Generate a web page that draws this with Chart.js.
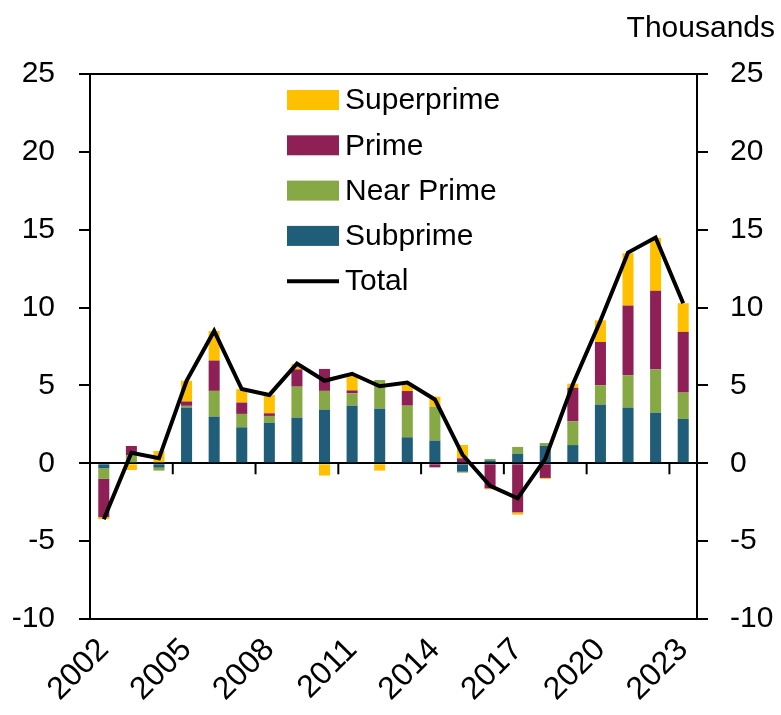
<!DOCTYPE html>
<html>
<head>
<meta charset="utf-8">
<script src="https://cdn.jsdelivr.net/npm/chart.js@4.4.1/dist/chart.umd.min.js"></script>
<style>
  body { margin: 0; background: #fff; }
  #wrap { width: 781px; height: 715px; }
</style>
</head>
<body>
<div id="wrap"><canvas id="chart" width="781" height="715"></canvas></div>
<script>
// data (thousands)
const years = ['2002','2003','2004','2005','2006','2007','2008','2009','2010','2011','2012',
               '2013','2014','2015','2016','2017','2018','2019','2020','2021','2022','2023'];
const subprime   = [-0.32, 0, -0.28, 3.58, 3.0, 2.31, 2.61, 2.93, 3.45, 3.7, 3.51, 1.67, 1.46, -0.54, 0.19, 0.62, 1.13, 1.17, 3.77, 3.58, 3.25, 2.85];
const nearPrime  = [-0.68, 0.53, -0.19, 0.11, 1.65, 0.86, 0.43, 1.99, 1.2, 0.79, 1.84, 2.03, 2.18, -0.06, 0.09, 0.43, 0.17, 1.52, 1.24, 2.08, 2.78, 1.69];
const prime      = [-2.46, 0.58, 0, 0.28, 1.95, 0.73, 0.17, 1.11, 1.41, 0.19, 0, 0.94, -0.26, 0.32, -1.61, -3.15, -0.94, 2.16, 2.78, 4.47, 5.05, 3.9];
const superprime = [-0.13, -0.43, 0.79, 1.33, 1.9, 0.86, 1.18, 0.34, -0.79, 0.94, -0.47, 0.49, 0.64, 0.86, -0.06, -0.15, -0.06, 0.26, 1.39, 3.36, 3.4, 1.84];
const total      = [-3.6, 0.68, 0.32, 5.3, 8.5, 4.77, 4.39, 6.4, 5.3, 5.75, 4.95, 5.18, 4.1, 0.55, -1.45, -2.25, 0.28, 5.08, 9.15, 13.53, 14.5, 10.28];
const labelEvery = 3;

const FONT = '"Liberation Sans", Arial, sans-serif';
Chart.defaults.font.family = FONT;
Chart.defaults.color = '#000';

// frame, zero-line ticks, "Thousands", legend
const extras = {
  id: 'extras',
  afterDatasetsDraw(chart) {
    const ctx = chart.ctx, a = chart.chartArea;
    const x = chart.scales.x, y = chart.scales.y;
    ctx.save();
    ctx.strokeStyle = '#000';
    ctx.lineWidth = 2;
    ctx.beginPath();
    ctx.moveTo(a.left, a.top); ctx.lineTo(a.right, a.top);
    ctx.stroke();

    // small ticks hanging off the zero line between categories
    const zy = y.getPixelForValue(0);
    for (let k = labelEvery; k < years.length; k += labelEvery) {
      const px = (x.getPixelForValue(k - 1) + x.getPixelForValue(k)) / 2;
      ctx.beginPath();
      ctx.moveTo(px, zy); ctx.lineTo(px, zy + 11);
      ctx.stroke();
    }

    ctx.fillStyle = '#000';
    ctx.font = '30px ' + FONT;
    ctx.textAlign = 'right';
    ctx.textBaseline = 'alphabetic';
    ctx.fillText('Thousands', 775, 37);

    // legend inside the plot
    const order = [3, 2, 1, 0, 4];
    const lx = a.left + 197, ly = a.top + 26, step = 45.3;
    ctx.textAlign = 'left';
    ctx.textBaseline = 'middle';
    order.forEach((di, i) => {
      const ds = chart.data.datasets[di];
      const cy = ly + i * step;
      if (ds.type === 'line') {
        ctx.strokeStyle = ds.borderColor;
        ctx.lineWidth = 4;
        ctx.beginPath();
        ctx.moveTo(lx, cy); ctx.lineTo(lx + 52, cy);
        ctx.stroke();
      } else {
        ctx.fillStyle = ds.backgroundColor;
        ctx.fillRect(lx, cy - 10, 52, 20);
      }
      ctx.fillStyle = '#000';
      ctx.fillText(ds.label, lx + 58, cy + 1);
    });
    ctx.restore();
  }
};

const yTicks = { stepSize: 5, font: { size: 30 }, color: '#000' };

new Chart(document.getElementById('chart'), {
  data: {
    labels: years,
    datasets: [
      { type: 'bar', label: 'Subprime', data: subprime, backgroundColor: '#1F5D78', order: 1 },
      { type: 'bar', label: 'Near Prime', data: nearPrime, backgroundColor: '#86A845', order: 1 },
      { type: 'bar', label: 'Prime', data: prime, backgroundColor: '#8E2056', order: 1 },
      { type: 'bar', label: 'Superprime', data: superprime, backgroundColor: '#FFC000', order: 1 },
      { type: 'line', label: 'Total', data: total, borderColor: '#000', borderWidth: 4,
        pointRadius: 0, tension: 0, fill: false, order: 0 }
    ]
  },
  options: {
    responsive: false,
    animation: false,
    layout: { padding: { top: 74 } },
    datasets: { bar: { barPercentage: 0.4, categoryPercentage: 1 } },
    plugins: { legend: { display: false }, tooltip: { enabled: false } },
    scales: {
      x: {
        stacked: true,
        grid: { display: false },
        border: { display: true, color: '#000', width: 2 },
        ticks: {
          autoSkip: false,
          maxRotation: 45,
          minRotation: 45,
          padding: 4,
          font: { size: 32 },
          color: '#000',
          callback: function (v, i) { return i % labelEvery === 0 ? years[i] : null; }
        },
        afterFit: s => { s.height = 96; }
      },
      y: {
        stacked: true,
        position: 'left',
        min: -10, max: 25,
        ticks: Object.assign({ padding: 24 }, yTicks),
        grid: {
          drawOnChartArea: true,
          color: c => c.tick.value === 0 ? '#000' : 'rgba(0,0,0,0)',
          lineWidth: 2,
          tickColor: '#000',
          tickLength: 11
        },
        border: { display: true, color: '#000', width: 2 },
        afterFit: s => { s.width = 90; }
      },
      y2: {
        position: 'right',
        min: -10, max: 25,
        ticks: Object.assign({ padding: 22 }, yTicks),
        grid: { drawOnChartArea: false, color: '#000', lineWidth: 2, tickLength: 11 },
        border: { display: true, color: '#000', width: 2 },
        afterFit: s => { s.width = 84; }
      }
    }
  },
  plugins: [extras]
});
</script>
</body>
</html>
